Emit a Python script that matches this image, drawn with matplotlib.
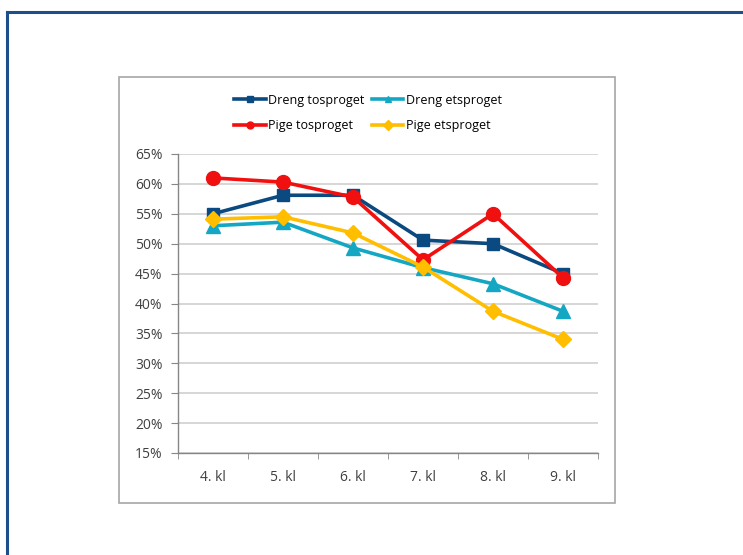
import matplotlib.pyplot as plt
import numpy as np
from matplotlib.patches import Rectangle
from matplotlib.lines import Line2D

plt.rcParams['font.family'] = ['Open Sans', 'DejaVu Sans']

grades = ["4. kl", "5. kl", "6. kl", "7. kl", "8. kl", "9. kl"]
dreng_tosproget = [55.0, 58.1, 58.1, 50.6, 50.0, 45.0]
dreng_etsproget = [53.0, 53.6, 49.3, 46.0, 43.3, 38.7]
pige_tosproget = [61.0, 60.3, 57.8, 47.3, 55.0, 44.3]
pige_etsproget = [54.1, 54.5, 51.8, 46.1, 38.7, 34.0]
y_ticks = [15, 20, 25, 30, 35, 40, 45, 50, 55, 60, 65]

W, H = 743, 555
fig = plt.figure(figsize=(W / 100, H / 100), dpi=100)

# page border (blue) and chart frame (gray)
fig.add_artist(Line2D([7 / W, 7 / W], [0, 1 - 12 / H], transform=fig.transFigure,
                      color='#1F4E8C', lw=2.2))
fig.add_artist(Line2D([7 / W, 1], [1 - 12 / H, 1 - 12 / H], transform=fig.transFigure,
                      color='#1F4E8C', lw=2.2))
fig.add_artist(Rectangle((119 / W, 1 - 503 / H), (615 - 119) / W, (503 - 77) / H,
                         transform=fig.transFigure, fill=False, edgecolor='#A6A6A6', lw=1.2))

ax = fig.add_axes([178 / W, 1 - 453 / H, 420 / W, 299 / H])
x = np.arange(len(grades))

series = [
    ("Dreng tosproget", dreng_tosproget, '#0B4A80', 's', 8),
    ("Dreng etsproget", dreng_etsproget, '#14A7C4', '^', 10),
    ("Pige tosproget", pige_tosproget, '#F01010', 'o', 10),
    ("Pige etsproget", pige_etsproget, '#FFBE00', 'D', 8),
]
handles = []
for name, vals, col, mk, ms in series:
    ax.plot(x, vals, color=col, lw=2.6, marker=mk, markersize=ms,
            markeredgecolor=col, markerfacecolor=col, zorder=3)
    handles.append(Line2D([], [], color=col, lw=2.6, marker=mk, markersize=5,
                          markerfacecolor=col, markeredgecolor=col, label=name))

ax.set_xlim(-0.5, len(grades) - 0.5)
ax.set_ylim(15, 65)
ax.set_yticks(y_ticks)
ax.set_yticklabels([f"{v}%" for v in y_ticks])
ax.set_xticks(x)
ax.set_xticklabels(grades)
ax.set_xticks(np.arange(len(grades) + 1) - 0.5, minor=True)
ax.tick_params(axis='x', which='major', length=0, pad=12, labelsize=10, colors='#404040')
ax.tick_params(axis='x', which='minor', length=4, color='#868686')
ax.tick_params(axis='y', length=5, color='#868686', labelsize=10, colors='#404040', pad=6)
ax.grid(axis='y', color='#D0D0D0', lw=1.2)
ax.set_axisbelow(True)
for s in ['top', 'right']:
    ax.spines[s].set_visible(False)
for s in ['left', 'bottom']:
    ax.spines[s].set_color('#868686')
    ax.spines[s].set_linewidth(1.0)

# legend is filled row by row in the original, matplotlib fills by column
order = [0, 2, 1, 3]
fig.legend(handles=[handles[i] for i in order], loc='center', ncol=2,
           bbox_to_anchor=(368 / W, 1 - 113 / H), frameon=False, fontsize=9,
           handlelength=2.5, handletextpad=0.2, columnspacing=0.6, labelspacing=1.0)

fig.savefig("out.png", dpi=100)
